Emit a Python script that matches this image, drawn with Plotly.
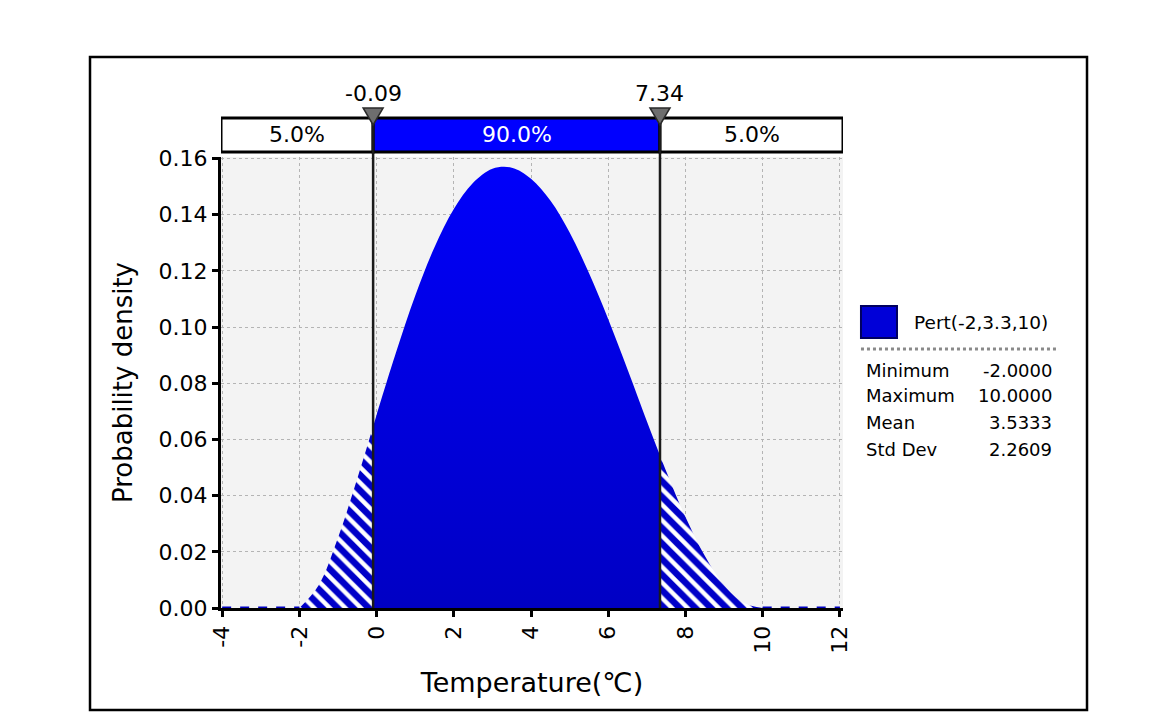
import plotly.graph_objects as go

# Pert(-2,3.3,10) density
x_pts = [-2, -1.5, -1, -0.5, -0.09, 0, 0.5, 1, 1.5, 2, 2.5, 3, 3.5, 4, 4.5,
         5, 5.5, 6, 6.5, 7, 7.34, 7.5, 8, 8.5, 9, 9.5, 10]
density = [0, 0.0081, 0.0250, 0.0461, 0.0646, 0.0687, 0.0908, 0.1111, 0.1284,
           0.1420, 0.1513, 0.1563, 0.1567, 0.1528, 0.1450, 0.1336, 0.1192,
           0.1028, 0.0849, 0.0665, 0.0543, 0.0487, 0.0324, 0.0186, 0.0082,
           0.0019, 0]

pct_x = [-0.09, 7.34]
pct_labels = ['-0.09', '7.34']
band_labels = ['5.0%', '90.0%', '5.0%']

legend_name = 'Pert(-2,3.3,10)'
stat_names = ['Minimum', 'Maximum', 'Mean', 'Std Dev']
stat_values = ['-2.0000', '10.0000', '3.5333', '2.2609']

x_ticks = [-4, -2, 0, 2, 4, 6, 8, 10, 12]
x_tick_text = ['-4', '-2', '0', '2', '4', '6', '8', '10', '12']
y_ticks = [0, 0.02, 0.04, 0.06, 0.08, 0.10, 0.12, 0.14, 0.16]

FONT = 'DejaVu Sans'
xr = [-4.03, 12.08]
yr = [0, 0.1605]

lo = x_pts.index(pct_x[0])
hi = x_pts.index(pct_x[1])

hatch = dict(shape='\\', fgcolor='white', bgcolor='#0000c8', fgopacity=1,
             size=11, solidity=0.4)

fig = go.Figure()

# left tail (hatched)
fig.add_trace(go.Scatter(
    x=x_pts[:lo + 1], y=density[:lo + 1],
    mode='lines', line=dict(width=0, shape='spline', color='#0000c8'),
    fill='tozeroy', fillcolor='#0000c8', fillpattern=hatch,
    hoverinfo='skip', showlegend=False
))

# middle 90%
fig.add_trace(go.Scatter(
    x=x_pts[lo:hi + 1], y=density[lo:hi + 1],
    mode='lines', line=dict(width=0, shape='spline', color='#0000e0'),
    fill='tozeroy',
    fillgradient=dict(type='vertical',
                      colorscale=[[0, '#0000c4'], [1, '#0000fa']]),
    hoverinfo='skip', showlegend=False
))

# right tail (hatched)
fig.add_trace(go.Scatter(
    x=x_pts[hi:], y=density[hi:],
    mode='lines', line=dict(width=0, shape='spline', color='#0000c8'),
    fill='tozeroy', fillcolor='#0000c8', fillpattern=hatch,
    hoverinfo='skip', showlegend=False
))

# zero density outside support
for xs in ([x_ticks[0], x_pts[0]], [x_pts[-1], x_ticks[-1]]):
    fig.add_trace(go.Scatter(
        x=xs, y=[0, 0], mode='lines',
        line=dict(color='#0000c0', width=3, dash='dash'),
        hoverinfo='skip', showlegend=False
    ))

shapes = []
annotations = []

# top percentage bar
edges = [xr[0]] + pct_x + [xr[1]]
for i, lab in enumerate(band_labels):
    mid = i == 1
    shapes.append(dict(type='rect', xref='x', yref='paper',
                       x0=edges[i], x1=edges[i + 1], y0=1.0111, y1=1.0865,
                       fillcolor='#0000ff' if mid else 'white',
                       line=dict(color='black', width=3), layer='above'))
    annotations.append(dict(x=(edges[i] + edges[i + 1]) / 2, y=1.0488,
                            xref='x', yref='paper', text=lab, showarrow=False,
                            yanchor='middle',
                            font=dict(family=FONT, size=22,
                                      color='white' if mid else 'black')))

# percentile lines, markers and labels
for px, lab in zip(pct_x, pct_labels):
    shapes.append(dict(type='line', xref='x', yref='paper',
                       x0=px, x1=px, y0=0, y1=1.0865,
                       line=dict(color='#1a1a1a', width=2.5), layer='above'))
    shapes.append(dict(type='path', xref='x', yref='paper',
                       xsizemode='pixel', ysizemode='pixel',
                       xanchor=px, yanchor=1.0909,
                       path='M -10,8 L 10,8 L 0,-9 Z',
                       fillcolor='#6e6e6e',
                       line=dict(color='#2a2a2a', width=1.5), layer='above'))
    annotations.append(dict(x=px, y=1.1397, xref='x', yref='paper',
                            text=lab, showarrow=False, yanchor='middle',
                            font=dict(family=FONT, size=22, color='black')))

# legend block
shapes.append(dict(type='rect', xref='paper', yref='paper',
                   x0=1.0289, x1=1.0868, y0=0.5987, y1=0.6696,
                   fillcolor='#0000d8', line=dict(color='#000060', width=2)))
annotations.append(dict(x=1.1109, y=0.6341, xref='paper', yref='paper',
                        text=legend_name, showarrow=False, xanchor='left',
                        yanchor='middle',
                        font=dict(family=FONT, size=18.5, color='black')))
shapes.append(dict(type='line', xref='paper', yref='paper',
                   x0=1.0289, x1=1.3473, y0=0.5743, y1=0.5743,
                   line=dict(color='#8a8a8a', width=3, dash='dot')))
row_y = [0.5277, 0.4701, 0.4113, 0.3525]
for name, val, ry in zip(stat_names, stat_values, row_y):
    annotations.append(dict(x=1.0338, y=ry, xref='paper', yref='paper',
                            text=name, showarrow=False, xanchor='left',
                            yanchor='middle',
                            font=dict(family=FONT, size=18, color='black')))
    annotations.append(dict(x=1.3392, y=ry, xref='paper', yref='paper',
                            text=val, showarrow=False, xanchor='right',
                            yanchor='middle',
                            font=dict(family=FONT, size=18, color='black')))

# outer frame
shapes.append(dict(type='rect', xref='paper', yref='paper',
                   x0=-0.2106, x1=1.3923, y0=-0.2262, y1=1.2217,
                   line=dict(color='black', width=2.5)))

fig.update_layout(
    width=1168, height=715,
    margin=dict(l=213, r=333, t=149, b=115),
    paper_bgcolor='white',
    plot_bgcolor='#f3f3f3',
    font=dict(family=FONT, color='black'),
    shapes=shapes,
    annotations=annotations,
    xaxis=dict(
        range=xr, tickvals=x_ticks, ticktext=x_tick_text, tickangle=-90,
        tickfont=dict(size=22, family=FONT),
        showline=True, linecolor='black', linewidth=3,
        ticks='outside', ticklen=6, tickwidth=3, tickcolor='black',
        showgrid=True, gridcolor='#b4b4b4', gridwidth=1.2, griddash='dot',
        zeroline=False,
        title=dict(text='Temperature(℃)', font=dict(size=27, family=FONT),
                   standoff=21)
    ),
    yaxis=dict(
        range=yr, tickvals=y_ticks, tickformat='.2f',
        tickfont=dict(size=22, family=FONT),
        showline=True, linecolor='black', linewidth=3,
        ticks='outside', ticklen=6, tickwidth=3, tickcolor='black',
        showgrid=True, gridcolor='#b4b4b4', gridwidth=1.2, griddash='dot',
        zeroline=False,
        title=dict(text='Probability density', font=dict(size=26, family=FONT),
                   standoff=19)
    )
)

fig.write_html("out.html")
